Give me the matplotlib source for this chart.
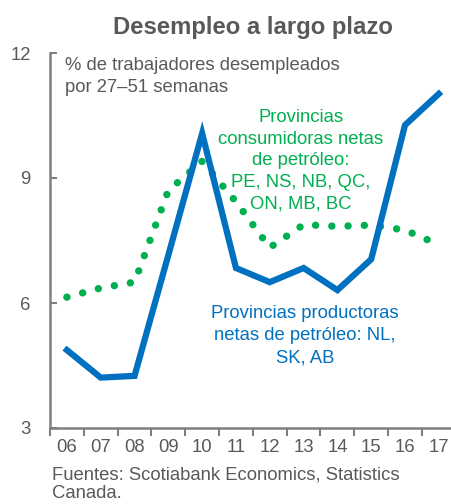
import matplotlib
matplotlib.use("Agg")
import matplotlib.pyplot as plt

# long-term unemployment, % of unemployed for 27-51 weeks
years = ["06", "07", "08", "09", "10", "11", "12", "13", "14", "15", "16", "17"]
producers = [4.87, 4.21, 4.25, 7.15, 10.07, 6.84, 6.50, 6.84, 6.31, 7.05, 10.27, 11.02]
consumers = [6.14, 6.36, 6.50, 8.70, 9.40, 8.43, 7.33, 7.88, 7.84, 7.87, 7.75, 7.40]
y_ticks = [3, 6, 9, 12]

BLUE = "#0070C0"
GREEN = "#00B050"
GRAY = "#595959"
W, H = 451, 504

plt.rcParams["font.family"] = ["Liberation Sans", "DejaVu Sans"]

fig = plt.figure(figsize=(W / 100, H / 100), dpi=100)
ax = fig.add_axes([50 / W, 76 / H, 401 / W, 375 / H])

x = list(range(len(years)))
ax.plot(x, consumers, color=GREEN, lw=5.3, linestyle=(0, (0.01, 2.2)),
        dash_capstyle="round", zorder=2)
ax.plot(x, producers, color=BLUE, lw=4.5, solid_joinstyle="miter", zorder=3)

ax.set_xlim(-0.5, 11.36)
ax.set_ylim(3, 12)
ax.set_yticks(y_ticks)
ax.set_yticklabels([str(v) for v in y_ticks])
ax.set_xticks([i - 0.5 for i in range(len(years))])
ax.set_xticklabels([])
ax.set_xticks(x, minor=True)
ax.set_xticklabels(years, minor=True)

ax.tick_params(axis="y", direction="in", length=5, width=1.5, color="#7f7f7f",
               labelsize=13.3, labelcolor=GRAY, pad=14)
ax.tick_params(axis="x", which="major", direction="out", length=6, width=1.5,
               color="#7f7f7f")
ax.tick_params(axis="x", which="minor", length=0, labelsize=13.3,
               labelcolor=GRAY, pad=8)

for side in ["top", "right"]:
    ax.spines[side].set_visible(False)
for side in ["left", "bottom"]:
    ax.spines[side].set_color("#7f7f7f")
    ax.spines[side].set_linewidth(1.8)

fig.text(0.56, 1 - 16 / H, "Desempleo a largo plazo", ha="center", va="top",
         fontsize=17.2, fontweight="bold", color=GRAY)

fig.text(65 / W, 1 - 57 / H, "% de trabajadores desempleados\npor 27–51 semanas",
         ha="left", va="top", fontsize=13.3, color=GRAY, linespacing=1.36)

fig.text(301 / W, 1 - 109 / H,
         "Provincias\nconsumidoras netas\nde petróleo:\nPE, NS, NB, QC,\nON, MB, BC",
         ha="center", va="top", fontsize=13.3, color=GREEN, linespacing=1.36)
fig.text(305 / W, 1 - 305 / H, "Provincias productoras\nnetas de petróleo: NL,\nSK, AB",
         ha="center", va="top", fontsize=13.3, color=BLUE, linespacing=1.4)

fig.text(52 / W, 1 - 467 / H, "Fuentes: Scotiabank Economics, Statistics\nCanada.",
         ha="left", va="top", fontsize=13.3, color=GRAY, linespacing=1.08)

fig.savefig("out.png", dpi=100)
